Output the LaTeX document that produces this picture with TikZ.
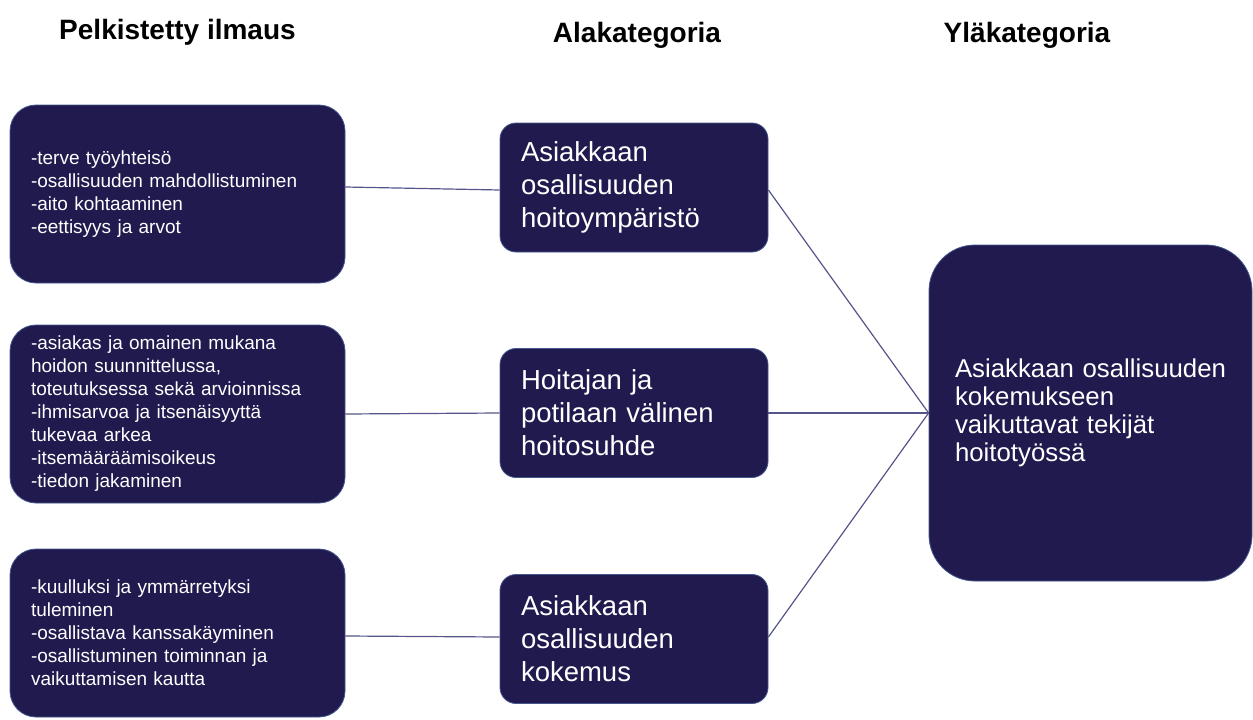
\documentclass[tikz,border=0pt]{standalone}
\usepackage{fontspec}
\setmainfont{Liberation Sans}
\usepackage[svgnames]{xcolor}
\usetikzlibrary{positioning}

\definecolor{BoxNavy}{HTML}{211A4F}
\definecolor{BoxEdge}{HTML}{44578C}
\definecolor{LinkGrey}{HTML}{55558A}

\begin{document}
\begin{tikzpicture}[x=1pt, y=-1pt, color=LinkGrey, line width=1.2pt,
      every node/.append style={font=\rmfamily},
      head/.style={text=black, anchor=base, font=\bfseries\fontsize{28}{32}\selectfont},
      box/.style={draw=BoxEdge, line width=0.8pt, fill=BoxNavy, text=white, align=left}]
    \tikzstyle{reduced} = [box, rounded corners=26pt, minimum width=335pt, text width=293pt,
      inner xsep=21pt, font=\fontsize{19}{23}\selectfont]
    \tikzstyle{subcat} = [box, rounded corners=16pt, minimum width=268pt, minimum height=129pt,
      text width=226pt, inner xsep=21pt, font=\fontsize{27.5}{33}\selectfont]
    \tikzstyle{maincat} = [box, rounded corners=46pt, minimum width=323pt, minimum height=336pt,
      text width=271pt, inner xsep=26pt, font=\fontsize{25.8}{28}\selectfont]
    \useasboundingbox (0,0) rectangle (1253,720);

    % otsikot
    \node [head] (h_reduced) at (177.5,39) {Pelkistetty ilmaus};
    \node [head] (h_sub) at (637,42) {Alakategoria};
    \node [head] (h_main) at (1027,42) {Yläkategoria};

    % pelkistetyt ilmaukset
    \node [reduced, minimum height=178pt] (expr1) at (177.5,194) {-terve työyhteisö\\
      -osallisuuden mahdollistuminen\\ -aito kohtaaminen\\ -eettisyys ja arvot};
    \node [reduced, minimum height=178pt] (expr2) at (177.5,414) {-asiakas ja omainen mukana\\
      hoidon suunnittelussa,\\ toteutuksessa sekä arvioinnissa\\ -ihmisarvoa ja itsenäisyyttä\\
      tukevaa arkea\\ -itsemääräämisoikeus\\ -tiedon jakaminen};
    \node [reduced, minimum height=168pt] (expr3) at (177.5,633) {-kuulluksi ja ymmärretyksi\\
      tuleminen\\ -osallistava kanssakäyminen\\ -osallistuminen toiminnan ja\\ vaikuttamisen kautta};

    % alakategoriat
    \node [subcat] (environment) at (634,187.5) {Asiakkaan\\ osallisuuden\\ hoitoympäristö};
    \node [subcat] (relation) at (634,413) {Hoitajan ja\\ potilaan välinen\\ hoitosuhde};
    \node [subcat] (experience) at (634,639) {Asiakkaan\\ osallisuuden\\ kokemus};

    % yläkategoria
    \node [maincat] (factors) at (1090.5,413) {\mbox{Asiakkaan osallisuuden}\\ kokemukseen\\
      vaikuttavat tekijät\\ hoitotyössä};

    \draw ([yshift=7pt]expr1.east) -- ([yshift=-2.5pt]environment.west);
    \draw (expr2.east) -- (relation.west);
    \draw ([yshift=-3pt]expr3.east) -- ([yshift=2pt]experience.west);
    \draw ([yshift=-2.5pt]environment.east) -- (factors.west);
    \draw (relation.east) -- (factors.west);
    \draw ([yshift=2pt]experience.east) -- (factors.west);
\end{tikzpicture}
\end{document}
